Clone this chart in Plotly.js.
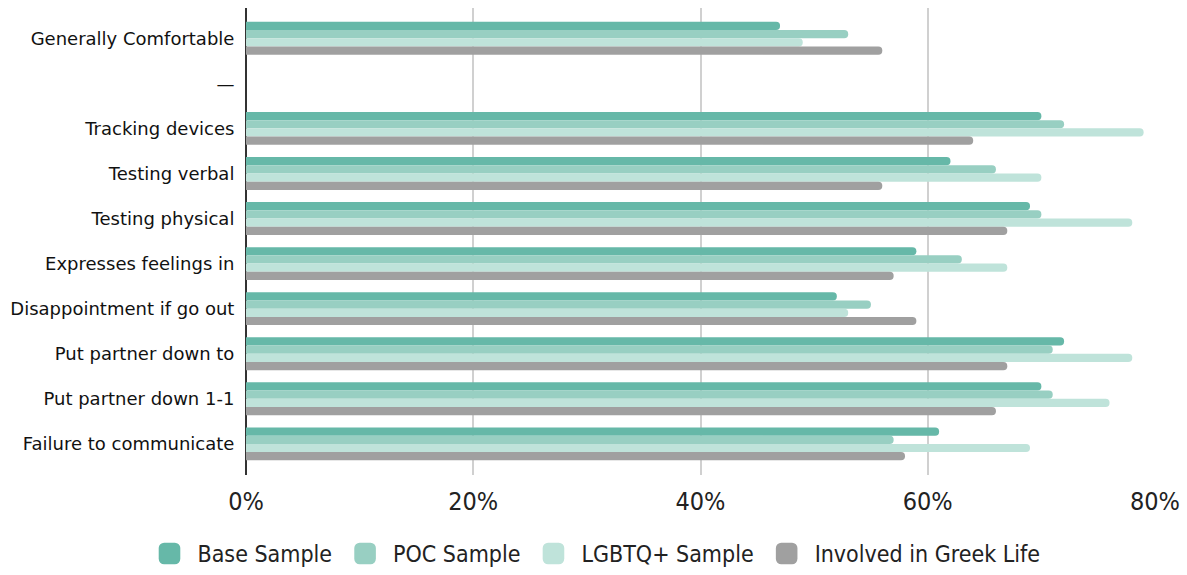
<!DOCTYPE html>
<html>
<head>
<meta charset="utf-8">
<script src="https://cdn.plot.ly/plotly-3.0.1.min.js"></script>
<style>html,body{margin:0;padding:0;background:#fff;}#chart{width:1187px;height:575px;}</style>
</head>
<body>
<div id="chart"></div>
<script>
const categories = ["Generally Comfortable", "—", "Tracking devices", "Testing verbal", "Testing physical", "Expresses feelings in", "Disappointment if go out", "Put partner down to", "Put partner down 1-1", "Failure to communicate"];
const baseSample = [47, null, 70, 62, 69, 59, 52, 72, 70, 61];
const pocSample = [53, null, 72, 66, 70, 63, 55, 71, 71, 57];
const lgbtqSample = [49, null, 79, 70, 78, 67, 53, 78, 76, 69];
const greekLife = [56, null, 64, 56, 67, 57, 59, 67, 66, 58];
const xTickVals = [0, 20, 40, 60, 80];
const xTickText = ["0%", "20%", "40%", "60%", "80%"];

const seriesNames = ["Base Sample", "POC Sample", "LGBTQ+ Sample", "Involved in Greek Life"];
const seriesData = [baseSample, pocSample, lgbtqSample, greekLife];
const seriesColors = ["#66b8a8", "#98cfc2", "#bfe3da", "#a0a0a0"];

const traces = seriesData.map((vals, i) => ({
  type: "bar",
  orientation: "h",
  name: seriesNames[i],
  y: categories,
  x: vals,
  marker: {color: seriesColors[i], cornerradius: 4, line: {width: 0}},
  hoverinfo: "x+y+name"
}));

const layout = {
  width: 1187,
  height: 575,
  margin: {l: 246, r: 32, t: 8, b: 100},
  paper_bgcolor: "#ffffff",
  plot_bgcolor: "#ffffff",
  barmode: "group",
  bargap: 0.27,
  bargroupgap: 0,
  font: {family: "DejaVu Sans", color: "#222222"},
  xaxis: {
    range: [0, 80],
    tickvals: xTickVals,
    ticktext: xTickText,
    showgrid: true,
    gridcolor: "#d0d0d0",
    gridwidth: 2,
    zeroline: true,
    zerolinecolor: "#333333",
    zerolinewidth: 1.5,
    showline: false,
    ticks: "outside",
    ticklen: 4,
    tickcolor: "rgba(0,0,0,0)",
    tickfont: {family: "DejaVu Sans Condensed", size: 25, color: "#222222"},
    fixedrange: true
  },
  yaxis: {
    type: "category",
    categoryorder: "array",
    categoryarray: categories,
    range: [9.69, -0.67],
    showgrid: false,
    zeroline: false,
    showline: false,
    ticks: "outside",
    ticklen: 7,
    tickcolor: "rgba(0,0,0,0)",
    tickfont: {family: "DejaVu Sans", size: 18, color: "#111111"},
    fixedrange: true
  },
  showlegend: true,
  legend: {
    orientation: "h",
    x: 0.5,
    xref: "container",
    xanchor: "center",
    y: 0,
    yref: "container",
    yanchor: "bottom",
    font: {family: "DejaVu Sans Condensed", size: 23, color: "#222222"},
    traceorder: "normal",
    itemwidth: 46
  }
};

Plotly.newPlot("chart", traces, layout, {displayModeBar: false, staticPlot: true}).then(() => {
  document.querySelectorAll("#chart .legend .legendpoints path").forEach(p => {
    const t = p.getAttribute("transform") || "";
    p.setAttribute("transform", t + " scale(1.8)");
  });
});
</script>
</body>
</html>
